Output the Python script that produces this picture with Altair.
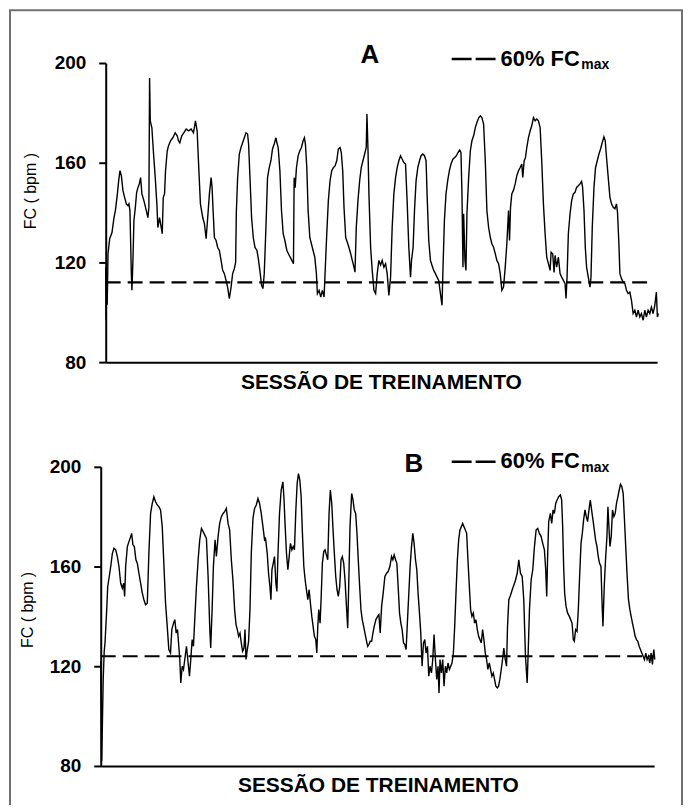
import altair as alt
import pandas as pd

# ---------------- data ----------------
# Panel A: session time (arbitrary units, axis unlabelled) and heart rate (bpm)
a_t = [0, 0.5, 1.0, 1.5, 2.3, 4, 6.3, 8.3, 9.7, 11.7, 13, 14.3, 15.7, 17.3, 19, 20.7, 22.3, 23.3, 24.3,
       25.7, 26.3, 27.3, 28.3, 29.7, 31, 32.3, 33.7, 35, 36.3, 38.3, 40.7, 42.3, 43.3, 44, 44.7, 46.3,
       48, 49.7, 51.3, 52.3, 54, 55.7, 56.7, 57.7, 59, 60, 61.7, 63, 65, 67.3, 69.7, 71.7, 73, 74.3,
       76.3, 78.3, 80.7, 83, 85.7, 88, 90, 91.7, 93, 95, 97.3, 99, 100.7, 102.3, 104, 105.7, 106.7,
       107.7, 109, 110.7, 112.3, 114, 115.7, 117.3, 119, 120.7, 122.3, 124, 125.7, 127.3, 129, 130.3,
       131, 132.3, 134, 135.7, 137.3, 139, 140.7, 142.3, 143.3, 144.7, 146.3, 148, 149.7, 151.7, 153.3,
       155, 156.3, 157.7, 159, 160.7, 162.3, 164, 165.7, 167.3, 169, 170.7, 171.7, 173, 174.7, 176.3,
       178, 179.7, 181.7, 183.3, 185, 186.7, 188.3, 189, 190, 191.3, 193, 194.7, 196.3, 198, 199.3,
       200.3, 201.7, 203, 204.7, 206.3, 208, 209.7, 211.3, 212.3, 214, 215.7, 217.3, 219, 220, 221.7,
       223.3, 225, 226.7, 228.3, 230, 231.7, 233.3, 235, 236.3, 237.7, 239, 240.7, 242.3, 244, 245.7,
       247.3, 249, 250, 251.3, 253, 254.7, 256.3, 258, 259.7, 261.3, 262, 263, 264, 265.7, 267.3, 269,
       270.7, 272.3, 274, 275.7, 277.3, 279, 280.7, 282.3, 284, 285.7, 287.3, 289, 290.7, 292.3, 294,
       295.7, 297.3, 299, 300.7, 302.3, 304, 305.7, 306.7, 308.3, 309.7, 311.3, 313, 314.7, 316.3, 318,
       319.7, 321.3, 322.3, 324, 325.7, 327.3, 329, 330.7, 332.3, 334, 335.7, 337.3, 338.3, 339.7,
       341.3, 343, 344.7, 346.3, 348.3, 350, 351.7, 353.3, 355, 356.3, 357.3, 358.3, 359, 360.3, 361.3,
       362.3, 364, 365.7, 367.3, 369, 370.7, 372.3, 374, 375.7, 377.3, 379, 380.7, 382.3, 384, 385.7,
       387.3, 389, 390.7, 392.3, 394, 395.7, 397.3, 399, 400.7, 402.3, 404, 405, 406, 407.3, 409,
       410.7, 412.3, 414, 415.7, 417.3, 418.3, 419.7, 421, 422.3, 424, 425.7, 427.3, 429, 430.7, 432.3,
       434, 435.7, 437.3, 439, 440.7, 442.3, 444, 445.7, 446.7, 448.3, 449.7, 450.7, 452.3, 454, 455.7,
       457.3, 459, 460.7, 461.7, 462.7, 464, 465.7, 467.3, 469, 470.7, 472.3, 474, 475.7, 477.3, 478.3,
       479.7, 481, 482.3, 484, 485.7, 486.7, 488, 489.7, 491.3, 493, 494.7, 496.3, 498, 499.7, 501,
       502.3, 504, 505.7, 507.3, 509, 510.7, 512.3, 513.3, 514.7, 515.7, 517.3, 519, 520.7, 522.3, 524,
       525.7, 527.3, 529, 530.7, 532.3, 534, 535.7, 537.3, 539, 540.7, 542.3, 544, 545.7, 547.3, 549,
       550.7, 552.3, 553.3, 554.3]
a_v = [118, 97, 116, 103, 123.5, 129.5, 132, 138, 140.8, 147.5, 152.8, 156.8, 154.8, 148.8, 146, 143.5,
       142.8, 143.5, 140.8, 115.5, 108.8, 120.8, 136.8, 142, 148, 150, 151.5, 154, 147.5, 144.8, 140.8,
       138, 142, 194, 176.8, 174, 163.5, 154, 143.5, 134, 138, 134, 131.5, 146, 147.5, 156.8, 164.8,
       166.8, 168.8, 170, 172, 170.8, 168.8, 168, 170.8, 172, 173.5, 172.8, 173.5, 172, 176.8, 172.8,
       160.8, 143.5, 138, 135.5, 129.5, 138, 147.5, 154, 150, 140.8, 130, 128.8, 126, 124.8, 120.8,
       116.8, 115.5, 112.8, 110, 105.5, 110, 115.5, 117.5, 120, 140, 154, 163.5, 166.1, 168, 170, 172,
       171.5, 167.5, 154, 138, 130, 126, 124.8, 120.8, 115.5, 110.8, 109.5, 115.5, 134, 154, 158,
       160.8, 165.5, 167.5, 170, 168, 166.1, 156.8, 140.8, 131.5, 128.8, 124.8, 123.5, 122.1, 120.8,
       119.5, 154, 150, 158, 162.8, 164.8, 166.1, 168.8, 170, 167.5, 158, 140.8, 130, 127.5, 124.8,
       122.1, 115.5, 107.5, 108.8, 106.1, 108.8, 106.1, 115.5, 131.5, 144.8, 152.8, 156.8, 158, 158.7,
       160.8, 165.5, 166.1, 164.1, 156.8, 142, 130, 128.1, 126, 123.5, 120.8, 118.1, 116.1, 134, 144.8,
       152.8, 158, 160.8, 163.5, 166.1, 179.5, 166.1, 147.5, 126, 116.8, 108.8, 107.5, 115.5, 120.8,
       119, 120.8, 118.1, 119.5, 115.5, 106.8, 114, 134, 147.5, 154, 158, 160.8, 162.8, 161.5, 160.1,
       159.5, 144.8, 126, 114.1, 120.8, 126, 140.8, 152.8, 158, 160.8, 162.8, 163.5, 162.8, 160.8,
       147.5, 128.8, 120.8, 118.8, 116.8, 115.5, 114.1, 112.8, 107.5, 102.8, 118.1, 136.8, 147.5, 152.8,
       156.8, 159.5, 161.5, 162.1, 162.8, 164.1, 165.1, 164.1, 147.5, 118.1, 139.5, 120.8, 116.8, 139.5,
       154, 164.8, 168.8, 170.8, 174.1, 176.1, 177.9, 178.8, 178.1, 175.5, 160.8, 140.8, 134.1, 130.1,
       127.5, 126.1, 123.5, 120.8, 119.5, 115.5, 108.8, 110.1, 118.1, 127.5, 140.8, 128.8, 142.1, 147.5,
       149, 151.5, 154.8, 156.8, 158.1, 159.5, 154.1, 160.8, 162.1, 166.1, 170.1, 172.8, 174.8, 178.1,
       176.8, 177.5, 176.8, 174.1, 160.8, 143.5, 131.5, 122.1, 119.5, 116.8, 124.1, 123.5, 116, 122.8,
       118.1, 122.1, 115.5, 114.1, 112.8, 111.5, 105.5, 114.1, 131.5, 139.5, 144.8, 147.5, 148.1, 150.1,
       150.8, 151.5, 152.5, 150.1, 140.8, 126.1, 118.1, 114.1, 110.1, 114.1, 134.1, 150.1, 158.1, 160.8,
       163.5, 165.5, 168.1, 170.4, 168.8, 162.1, 154.1, 146.1, 143.5, 142.1, 141.5, 143.5, 140.1, 127.5,
       115.5, 113.5, 112.1, 111.5, 108.8, 107.5, 108.1, 104.8, 99.5, 100.8, 98.1, 100.8, 98.1, 99.5,
       96.8, 100.8, 98.1, 100.8, 99.5, 102, 99.5, 102.8, 108.1, 98.1, 99.5]

# Panel B
b_t = [0, 1, 2.5, 3.5, 4.3, 6, 7, 8.3, 10, 11.7, 13.3, 15, 16.7, 18.3, 20, 21.7, 23, 24, 25, 26.7, 28.3,
       30, 31, 32.3, 33.7, 35.3, 36.7, 38.3, 40, 41.7, 43.3, 45, 46.7, 48.3, 50, 51.7, 53.3, 55, 56.7,
       58.3, 60, 61.7, 63.3, 65, 66.7, 68.3, 70, 71.3, 73, 74.3, 75.7, 77, 78.3, 79.3, 80.3, 81.7, 83,
       84.3, 86, 87.3, 89, 90.3, 91.7, 93, 94.3, 96, 97.7, 99.3, 101, 102.7, 104.3, 106, 107.7, 109.3,
       110.3, 111.7, 113, 114.7, 116, 117.7, 119.3, 121, 122.7, 124.3, 126, 127.7, 129.3, 131, 132.7,
       134.3, 135.7, 137, 138.3, 139.7, 141, 142.3, 143.7, 144.7, 145.7, 147, 148.3, 149.7, 151, 152.7,
       154.3, 156, 157.7, 159.3, 161, 162.7, 164.3, 165.3, 167, 168.3, 169.7, 170.7, 171.7, 173, 174.3,
       175.7, 176.7, 177.7, 179.3, 181, 182.7, 183.7, 185, 186.3, 187.7, 189, 190.3, 191.7, 193, 194.3,
       195.7, 197, 198.3, 199.7, 201, 202.3, 203.7, 205, 206.3, 207.7, 209, 210.3, 211.7, 213, 214.3,
       215.7, 216.7, 217.7, 218.7, 220, 221, 222.3, 223.7, 225, 226.3, 227.7, 229, 230.3, 231.7, 233,
       234.3, 235.7, 237, 238.3, 239.7, 241, 242.3, 243.7, 245, 246.3, 247.7, 248.7, 250, 251.7, 253,
       254.3, 255.7, 257, 258.3, 259.7, 261, 262.3, 263.7, 265, 266.3, 267.7, 269, 270.3, 271.7, 273,
       274.3, 276, 277.7, 279, 280.3, 281.7, 283.3, 285, 286.7, 288.3, 290, 291.7, 293, 294.3, 295.7,
       297, 298.3, 299.7, 301, 302.3, 303.7, 305, 306.3, 307.7, 309, 310.3, 311.7, 313, 314.3, 315.7,
       317, 318.3, 319.7, 321, 322.3, 323.7, 325, 326.3, 327.7, 329, 330.3, 331.7, 333, 334.3, 335.7,
       337, 338.3, 339.3, 340.3, 341.7, 343, 344.3, 345.7, 347, 348.3, 349.7, 351, 352.3, 353.7, 355,
       356.3, 357.7, 359, 360.3, 361.7, 363, 364.3, 365.7, 367, 368.3, 369.7, 371, 372.3, 373.7, 375,
       376.3, 377.7, 379, 380.3, 381.7, 383, 384.3, 385.7, 387, 388.3, 389.7, 391, 392.3, 393.7, 395,
       396.3, 397.7, 399, 400.3, 401.7, 403, 404.3, 405.7, 407, 408, 409.3, 411, 412.7, 414.3, 416,
       417.7, 419.3, 421, 422.7, 424.3, 426, 427.7, 428.7, 430, 431.7, 433.3, 435, 436.7, 438.3, 440,
       441.7, 443.3, 445, 446.3, 447.3, 448.3, 449.3, 451, 452.3, 453.7, 455, 456.3, 457.7, 459.3, 461,
       462.3, 463.3, 464.3, 465.3, 466.7, 468.3, 470, 471.3, 472.7, 474, 475, 476.3, 477.7, 479, 480.3,
       481.7, 483, 484.3, 485.7, 487, 488.3, 489.7, 491, 492.3, 493.7, 495, 496.3, 497.7, 499, 500.3,
       501.7, 502.7, 503.7, 505, 506.3, 507.7, 508.7, 509.7, 510.7, 512, 513.3, 514.7, 516, 517.3,
       518.7, 520, 521.3, 522.7, 524, 525.3, 526.7, 528, 529.3, 530.7, 532, 533.3, 534.7, 536, 537.3,
       538.7, 540, 541.3, 542.7, 544, 545.3, 546.7, 548, 549.3, 550.7, 552, 553.3, 554.7, 555.7]
b_v = [122, 82, 115, 126, 129.3, 142.7, 152, 155.3, 160, 165.3, 167.3, 166.7, 164, 160, 153.3, 151.3,
       153.3, 148, 160, 168, 170, 172, 173.3, 168.7, 168, 162.7, 161.3, 157.3, 153.3, 149.3, 146.7,
       144.7, 145.3, 165.3, 181.3, 185.3, 188, 186, 184.7, 184, 182.7, 176, 161.3, 145.3, 136, 126.7,
       125.3, 134.7, 137.3, 138.7, 133.3, 134.7, 128, 122.7, 113.3, 120, 118.7, 122.7, 128, 122.7, 116,
       122.7, 130.7, 128, 138.7, 152, 162.7, 170.7, 175.3, 174, 172.7, 171.3, 156, 136, 127.3, 142.7,
       160, 170.7, 164, 172, 177.3, 180, 181.3, 182, 183.3, 177.3, 174.7, 162.7, 154, 142.7, 136.7,
       134.7, 132, 133.3, 129.3, 126, 127.3, 134.7, 122.7, 126.7, 130, 142.7, 165.3, 179.3, 183.3,
       184.7, 187.3, 185.3, 181.3, 176, 170.7, 171.3, 165.3, 157.3, 152, 146.7, 158.7, 161.3, 164,
       153.3, 150, 164, 181.3, 190.7, 194, 188, 176, 165.3, 158.7, 164, 169.3, 166.7, 168, 166.7,
       182.7, 193.3, 197.3, 194.7, 188, 173.3, 160, 154.7, 150.7, 146.7, 150.7, 145.3, 140, 136, 132,
       130.7, 125.3, 136, 142.7, 137.3, 146.7, 161.3, 166, 166.7, 164.7, 162.7, 181.3, 190.7, 185.3,
       174.7, 165.3, 156, 150.7, 148, 152, 162.7, 164, 161.3, 154.7, 145.3, 135.3, 152, 176, 189.3,
       186.7, 182.7, 181.3, 173.3, 162.7, 152, 142.7, 138.7, 136, 133.3, 130.7, 128, 128.7, 130, 130,
       133.3, 136, 138.7, 140, 140.7, 133.3, 144, 149.3, 156, 157.3, 158, 160, 164, 162.7, 164.7,
       162.7, 161.3, 152, 141.3, 137.3, 134.7, 129.3, 128.7, 126.7, 138.7, 149.3, 160, 168, 173.3,
       169.3, 162.7, 158.7, 149.3, 141.3, 133.3, 120, 129.3, 130.7, 125.3, 128, 116, 120, 117.3, 122.7,
       132.7, 122.7, 114.7, 120, 109.3, 122.7, 117.3, 122.7, 112, 120, 117.3, 121.3, 118.7, 120, 121.3,
       125.3, 136, 149.3, 162.7, 170.7, 174.7, 176, 177.3, 176, 174.7, 173.3, 162.7, 152, 142.7, 140,
       141.3, 137.3, 138.7, 134.7, 132, 130.7, 129.3, 134.7, 130.7, 125.3, 122.7, 118.7, 121.3, 118.7,
       116, 117.3, 114.7, 112, 111.3, 112, 114.7, 118.7, 122.7, 127.3, 122.7, 120, 136, 146.7, 148.5,
       150.7, 152.5, 154.5, 157.3, 162.7, 157.3, 156, 146.7, 124, 113.3, 125.3, 142.7, 154.7, 158.7,
       168, 174.7, 175.3, 173.3, 172, 169.3, 166.7, 158.7, 148, 165.3, 178, 181.3, 177.3, 182.7, 181.3,
       185.3, 186.7, 188, 188.7, 186.7, 176, 160, 149.3, 144, 141.3, 140, 138.7, 137.3, 130.7, 130,
       134.7, 134, 142.7, 156, 169.3, 173.3, 178.7, 182.7, 180, 178, 182.7, 186.7, 182.7, 178.7, 174.7,
       170.7, 168, 164, 161.3, 160, 146.7, 136, 152, 162.7, 172, 184, 176, 168, 172, 182.7, 180,
       181.3, 185.3, 188, 190.7, 193, 192, 189.3, 178.7, 166.7, 156, 146.7, 142.7, 140, 137.3, 134.7,
       132, 130.7, 130, 128, 126.7, 125.3, 124, 122.7, 125.3, 122.7, 124, 121.3, 125.3, 120.7, 126.7,
       122.7]

y_ticks = [80, 120, 160, 200]
a_threshold = 112      # 60% FCmax, panel A
b_threshold = 124      # 60% FCmax, panel B
a_threshold_end = 545.7
b_threshold_end = 554.3
a_xmax = 553
b_xmax = 555

panel_labels = ["A", "B"]
legend_text = "60% FC"
legend_sub = "max"
x_title = "SESSÃO DE TREINAMENTO"
y_title = "FC ( bpm )"

FONT = "Liberation Sans"
W, H = 680, 797


def panel(t, v, thr, thr_end, xmax, xrange, yrange, y_off, x_off, ytx, yty, xtx):
    df = pd.DataFrame({"t": t, "v": v})
    rule_df = pd.DataFrame({"t": [0], "t2": [thr_end], "v": [thr]})
    xs = alt.Scale(domain=[0, xmax], range=xrange, nice=False, zero=False)
    ys = alt.Scale(domain=[80, 200], range=yrange, nice=False, zero=False)
    x_axis = alt.Axis(orient="bottom", offset=x_off, ticks=False, labels=False, grid=False,
                      domainColor="black", domainWidth=2,
                      title=x_title, titleFont=FONT, titleFontSize=21, titleFontWeight="bold",
                      titleColor="black", titleX=xtx, titleY=26, titleAlign="center",
                      titleBaseline="alphabetic")
    y_axis = alt.Axis(orient="left", offset=y_off, values=y_ticks, grid=False, format="d",
                      domainColor="black", domainWidth=2, tickColor="black", tickWidth=2,
                      tickSize=7, labelFont=FONT, labelFontSize=19, labelFontWeight="bold",
                      labelColor="black", labelPadding=13, labelFlush=False,
                      title=y_title, titleFont=FONT, titleFontSize=16, titleFontWeight="normal",
                      titleColor="#000000", titleAngle=270, titleX=ytx, titleY=yty,
                      titleAlign="center", titleBaseline="middle")
    line = alt.Chart(df).mark_line(color="black", strokeWidth=1.4).encode(
        x=alt.X("t:Q", scale=xs, axis=x_axis),
        y=alt.Y("v:Q", scale=ys, axis=y_axis),
    )
    rule = alt.Chart(rule_df).mark_rule(color="black", strokeWidth=2.2, strokeDash=[15, 7]).encode(
        x=alt.X("t:Q", scale=xs, axis=x_axis),
        x2="t2",
        y=alt.Y("v:Q", scale=ys, axis=y_axis),
    )
    return alt.layer(line, rule)


pA = panel(a_t, a_v, a_threshold, a_threshold_end, a_xmax, [98, 651], [354, 54],
           -98, 354 - H, -75, 182, 374)
pB = panel(b_t, b_v, b_threshold, b_threshold_end, b_xmax, [93, 648], [759, 459],
           -93, 759 - H, -73, 602, 371)

one = pd.DataFrame({"s": [""]})

border = alt.Chart(one).mark_rect(filled=False, stroke="#707070", strokeWidth=2).encode(
    x=alt.value(2), x2=alt.value(676), y=alt.value(1), y2=alt.value(H + 40))


def label(txt, x, y, size, align="center"):
    return alt.Chart(pd.DataFrame({"s": [txt]})).mark_text(
        font=FONT, fontSize=size, fontWeight="bold", color="black", align=align,
        baseline="alphabetic").encode(text="s:N", x=alt.value(x), y=alt.value(y))


def legend_dash(y):
    return alt.Chart(one).mark_rule(color="black", strokeWidth=2.5, strokeDash=[20, 4]).encode(
        x=alt.value(445), x2=alt.value(489), y=alt.value(y))


annots = [
    label(panel_labels[0], 363, 54, 26),
    legend_dash(50),
    label(legend_text, 494, 57, 22, "left"),
    label(legend_sub, 575, 60.5, 14, "left"),
    label(panel_labels[1], 407, 464, 26),
    legend_dash(454),
    label(legend_text, 494, 460, 22, "left"),
    label(legend_sub, 575, 464, 14, "left"),
]

chart = alt.layer(border, pA, pB, *annots).resolve_scale(
    x="independent", y="independent"
).resolve_axis(
    x="independent", y="independent"
).properties(
    width=W, height=H, padding=0, autosize=alt.AutoSizeParams(type="none")
).configure_view(stroke=None)

chart.save("out.html", embed_options={"renderer": "svg", "actions": False})
